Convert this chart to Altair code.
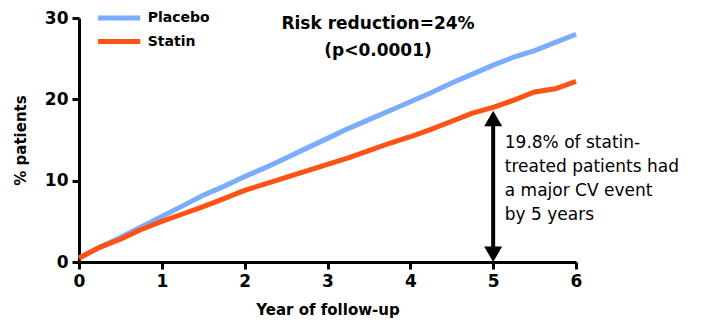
import altair as alt
import pandas as pd

years = [0, 0.25, 0.5, 0.75, 1, 1.25, 1.5, 1.75, 2, 2.25, 2.5, 2.75, 3,
         3.25, 3.5, 3.75, 4, 4.25, 4.5, 4.75, 5, 5.25, 5.5, 5.75, 6]
placebo = [0.5, 1.8, 3.0, 4.3, 5.6, 6.9, 8.2, 9.3, 10.5, 11.6, 12.8, 14.0, 15.2,
           16.4, 17.5, 18.6, 19.7, 20.8, 22.0, 23.1, 24.2, 25.2, 26.0, 27.0, 28.0]
statin = [0.5, 1.8, 2.8, 4.0, 5.0, 5.9, 6.8, 7.8, 8.8, 9.6, 10.4, 11.2, 12.0,
          12.8, 13.7, 14.6, 15.4, 16.3, 17.3, 18.3, 19.0, 19.9, 20.9, 21.3, 22.2]
series_names = ["Placebo", "Statin"]
series_colors = ["#7aacff", "#ff5214"]

# legend key placement (in data units)
legend_x = [0.23, 0.74]
legend_label_x = 0.83
legend_y = [30.0, 27.1]

arrow_year = [5]
arrow_top = [18.6]
arrow_bottom = [0.0]

headline = ["Risk reduction=24%", "(p<0.0001)"]
headline_pos = [3.61, 29.3]
note_lines = ["19.8% of statin-", "treated patients had", "a major CV event", "by 5 years"]
note_pos = [5.14, 14.6]

FONT = "DejaVu Sans"

rows = []
for y, p, s in zip(years, placebo, statin):
    rows.append({"year": y, "pct": p, "group": "Placebo"})
    rows.append({"year": y, "pct": s, "group": "Statin"})
df = pd.DataFrame(rows)

xscale = alt.Scale(domain=[0, 6], nice=False)
yscale = alt.Scale(domain=[0, 30], nice=False)
cscale = alt.Scale(domain=series_names, range=series_colors)

lines = alt.Chart(df).mark_line(strokeWidth=5).encode(
    x=alt.X("year:Q", scale=xscale, title="Year of follow-up",
            axis=alt.Axis(values=[0, 1, 2, 3, 4, 5, 6], format="d", labelFlush=False)),
    y=alt.Y("pct:Q", scale=yscale, title="% patients",
            axis=alt.Axis(values=[0, 10, 20, 30], format="d", labelFlush=False)),
    color=alt.Color("group:N", scale=cscale, legend=None),
)

leg_df = pd.DataFrame({"group": series_names, "y": legend_y,
                       "x1": [legend_x[0]] * 2, "x2": [legend_x[1]] * 2,
                       "lx": [legend_label_x] * 2})
leg_lines = alt.Chart(leg_df).mark_rule(strokeWidth=5).encode(
    x="x1:Q", x2="x2:Q", y="y:Q", color=alt.Color("group:N", scale=cscale, legend=None))
leg_text = alt.Chart(leg_df).mark_text(font=FONT, fontWeight="bold", fontSize=14,
                                       align="left", baseline="middle", color="black").encode(
    x="lx:Q", y="y:Q", text="group:N")

arrow_df = pd.DataFrame({"x": arrow_year, "top": arrow_top, "bottom": arrow_bottom})
arrow_df["shaft_top"] = arrow_df["top"] - 1.5
arrow_df["shaft_bottom"] = arrow_df["bottom"] + 1.5
arrow_df["head_top"] = arrow_df["top"] - 0.95
arrow_df["head_bottom"] = arrow_df["bottom"] + 0.95

shaft = alt.Chart(arrow_df).mark_rule(color="black", strokeWidth=4).encode(
    x="x:Q", y="shaft_bottom:Q", y2="shaft_top:Q")
head_up = alt.Chart(arrow_df).mark_point(shape="triangle-up", filled=True, size=324,
                                         color="black", opacity=1).encode(
    x="x:Q", y="head_top:Q")
head_down = alt.Chart(arrow_df).mark_point(shape="triangle-down", filled=True, size=324,
                                           color="black", opacity=1).encode(
    x="x:Q", y="head_bottom:Q")

head_df = pd.DataFrame({"x": [headline_pos[0]], "y": [headline_pos[1]], "t": [headline]})
headline_text = alt.Chart(head_df).mark_text(font=FONT, fontWeight="bold", fontSize=17,
                                             align="center", baseline="middle",
                                             lineHeight=27).encode(
    x="x:Q", y="y:Q", text="t")

note_df = pd.DataFrame({"x": [note_pos[0]], "y": [note_pos[1]], "t": [note_lines]})
note_text = alt.Chart(note_df).mark_text(font=FONT, fontSize=17, align="left",
                                         baseline="middle", lineHeight=24).encode(
    x="x:Q", y="y:Q", text="t")

chart = alt.layer(lines, leg_lines, leg_text, shaft, head_up, head_down,
                  headline_text, note_text).properties(
    width=497, height=244, autosize="none",
    padding={"left": 71, "top": 10, "right": 131, "bottom": 57},
).configure_view(stroke=None).configure_axis(
    domainColor="black", domainWidth=3, tickColor="black", tickWidth=3, tickSize=7,
    grid=False, labelFont=FONT, labelFontWeight="bold", labelFontSize=17,
    labelColor="black", titleFont=FONT, titleFontWeight="bold", titleFontSize=15,
    titleColor="black", labelPadding=4,
).configure_axisX(titlePadding=13).configure_axisY(titlePadding=16)

chart.save("out.html", embed_options={"renderer": "svg", "actions": False})
